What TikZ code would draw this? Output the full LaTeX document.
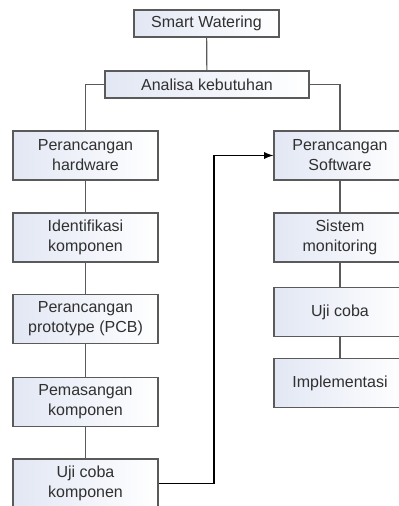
\documentclass[tikz,border=0pt]{standalone}
\usepackage{fontspec}
\setmainfont{Liberation Sans}
\usetikzlibrary{positioning, shapes}
\definecolor{linegray}{HTML}{5A5A5A}
\definecolor{textgray}{HTML}{303030}
\definecolor{boxblue}{HTML}{E2E7F4}

\tikzset{
    stage/.style={draw=linegray, line width=0.6pt, left color=boxblue, right color=white,
        text=textgray, align=center, font=\fontsize{8}{10}\selectfont,
        minimum width=72.5pt, minimum height=24.5pt, inner sep=0pt},
    header/.style={stage, minimum height=13.5pt},
    link/.style={draw=linegray, line width=0.6pt}
}

\begin{document}
\begin{tikzpicture}[x=0.5pt, y=-0.5pt]
        \useasboundingbox (0,0) rectangle (398,506); % page size of the reference

        % Top of the tree
        \node[header] (smart) at (206.5,23.5) {Smart Watering};
        \node[header, minimum width=102pt] (analisa) at (207,84.5) {Analisa kebutuhan};

        % Hardware branch (left column)
        \node[stage] (hardware) at (85.5,155.5) {Perancangan\\hardware};
        \node[stage] (identifikasi) at (85.5,237.5) {Identifikasi\\komponen};
        \node[stage] (prototype) at (85.5,319) {Perancangan\\prototype (PCB)};
        \node[stage] (pemasangan) at (85.5,402) {Pemasangan\\komponen};
        \node[stage] (ujikomponen) at (85.5,483.5) {Uji coba\\komponen};

        % Software branch (right column)
        \node[stage, minimum width=66pt] (software) at (340,155.5) {Perancangan\\Software};
        \node[stage, minimum width=66pt] (monitoring) at (340,237.5) {Sistem\\monitoring};
        \node[stage, minimum width=66pt] (ujicoba) at (340,312) {Uji coba};
        \node[stage, minimum width=66pt] (implementasi) at (340,383) {Implementasi};

        % Connectors
        \draw[link] (smart) -- (analisa);
        \draw[link] (analisa.west) -| (hardware.north);
        \draw[link] (analisa.east) -| (software.north);
        \draw[link] (hardware) -- (identifikasi);
        \draw[link] (identifikasi) -- (prototype);
        \draw[link] (prototype) -- (pemasangan);
        \draw[link] (pemasangan) -- (ujikomponen);
        \draw[link] (software) -- (monitoring);
        \draw[link] (monitoring) -- (ujicoba);
        \draw[link] (ujicoba) -- (implementasi);

        \coordinate (turn) at (214,483.5); % corner of the return line
        \draw[link, -latex, draw=black] (ujikomponen.east) -- (turn) |- (software.west); % hardware done, go to software
    \end{tikzpicture}
\end{document}
